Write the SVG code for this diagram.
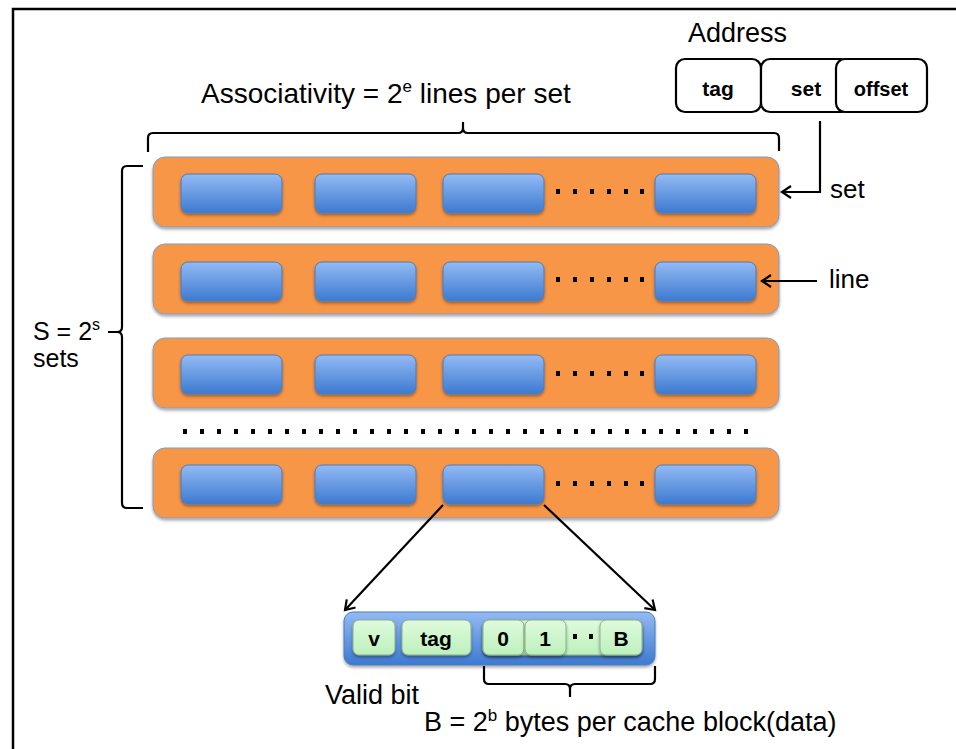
<svg xmlns="http://www.w3.org/2000/svg" width="956" height="749" viewBox="0 0 956 749">
<defs>
  <linearGradient id="gBlue" x1="0" y1="0" x2="0" y2="1">
    <stop offset="0" stop-color="#93BAF4"/>
    <stop offset="1" stop-color="#3D7AD0"/>
  </linearGradient>
  <linearGradient id="gGreen" x1="0" y1="0" x2="0" y2="1">
    <stop offset="0" stop-color="#DFFBDC"/>
    <stop offset="1" stop-color="#BDF0BC"/>
  </linearGradient>
  <filter id="sh" x="-10%" y="-20%" width="120%" height="150%">
    <feDropShadow dx="0" dy="2" stdDeviation="1.5" flood-color="#000" flood-opacity="0.35"/>
  </filter>
  <marker id="arr" markerWidth="14" markerHeight="14" refX="11" refY="7" orient="auto" markerUnits="userSpaceOnUse">
    <path d="M2,1 L11,7 L2,13" fill="none" stroke="#000" stroke-width="2.2"/>
  </marker>
  <style>
    .row { fill: #F79646; stroke: #7D9FCB; stroke-width: 1; filter: url(#sh); }
    .blk { fill: url(#gBlue); stroke: #4A7DBD; stroke-width: 1; filter: url(#sh); }
    .grn { fill: url(#gGreen); stroke: #8BAF8A; stroke-width: 1; filter: url(#sh); }
    .addr { fill: #fff; stroke: #000; stroke-width: 2.2; }
    .t { font-family: "Liberation Sans", Arial, sans-serif; fill: #000; }
    .b { font-family: "Liberation Sans", Arial, sans-serif; font-weight: bold; fill: #000; }
    .ln { fill: none; stroke: #000; stroke-width: 2.2; }
    .dot { fill: #000; }
  </style>
</defs>
<rect width="956" height="749" fill="#fff"/>
<!-- frame -->
<path d="M13,760 L13,9 L960,9" fill="none" stroke="#000" stroke-width="2.5"/>

<!-- Address -->
<g id="address">
  <text class="t" x="688" y="42" font-size="27">Address</text>
  <rect class="addr" x="676" y="59" width="85" height="53" rx="9"/>
  <text class="b" x="718" y="96" font-size="21" text-anchor="middle">tag</text>
  <rect class="addr" x="761" y="59" width="90" height="53" rx="9"/>
  <text class="b" x="806" y="96" font-size="21" text-anchor="middle">set</text>
  <rect class="addr" x="836" y="59" width="91" height="53" rx="9"/>
  <text class="b" x="881" y="96" font-size="20" text-anchor="middle">offset</text>
</g>

<!-- braces and labels -->
<g id="assoc">
  <path class="ln" d="M148,152 L148,138 Q148,133 153,133 L458,133 Q463,133 463,128 L463,122 L463,128 Q463,133 468,133 L774,133 Q779,133 779,138 L779,151"/>
  <text class="t" x="201" y="103" font-size="28">Associativity = 2<tspan font-size="17" dy="-11">e</tspan><tspan dy="11"> lines per set</tspan></text>
</g>
<g id="sets">
  <path class="ln" d="M143,166 L127,166 Q122,166 122,171 L122,327 Q122,332 117,332 L108,332 L117,332 Q122,332 122,337 L122,503 Q122,508 127,508 L143,508"/>
  <text class="t" x="33" y="340" font-size="25">S = 2<tspan font-size="16" dy="-10">s</tspan></text>
  <text class="t" x="33" y="367" font-size="25">sets</text>
</g>

<!-- rows -->
<g id="row1">
  <rect class="row" x="153" y="157" width="626" height="70" rx="12"/>
  <rect class="blk" x="181" y="174" width="101" height="39" rx="7"/>
  <rect class="blk" x="315" y="174" width="101" height="39" rx="7"/>
  <rect class="blk" x="443" y="174" width="101" height="39" rx="7"/>
  <rect class="blk" x="655" y="174" width="101" height="39" rx="7"/>
  <g class="dot"><rect x="556" y="189" width="4" height="5"/><rect x="573" y="189" width="4" height="5"/><rect x="590" y="189" width="4" height="5"/><rect x="607" y="189" width="4" height="5"/><rect x="624" y="189" width="4" height="5"/><rect x="640" y="189" width="4" height="5"/></g>
</g>
<g id="row2">
  <rect class="row" x="153" y="244" width="626" height="70" rx="12"/>
  <rect class="blk" x="181" y="262" width="101" height="39" rx="7"/>
  <rect class="blk" x="315" y="262" width="101" height="39" rx="7"/>
  <rect class="blk" x="443" y="262" width="101" height="39" rx="7"/>
  <rect class="blk" x="655" y="262" width="101" height="39" rx="7"/>
  <g class="dot"><rect x="556" y="277" width="4" height="5"/><rect x="573" y="277" width="4" height="5"/><rect x="590" y="277" width="4" height="5"/><rect x="607" y="277" width="4" height="5"/><rect x="624" y="277" width="4" height="5"/><rect x="640" y="277" width="4" height="5"/></g>
</g>
<g id="row3">
  <rect class="row" x="153" y="338" width="626" height="70" rx="12"/>
  <rect class="blk" x="181" y="355" width="101" height="39" rx="7"/>
  <rect class="blk" x="315" y="355" width="101" height="39" rx="7"/>
  <rect class="blk" x="443" y="355" width="101" height="39" rx="7"/>
  <rect class="blk" x="655" y="355" width="101" height="39" rx="7"/>
  <g class="dot"><rect x="556" y="371" width="4" height="5"/><rect x="573" y="371" width="4" height="5"/><rect x="590" y="371" width="4" height="5"/><rect x="607" y="371" width="4" height="5"/><rect x="624" y="371" width="4" height="5"/><rect x="640" y="371" width="4" height="5"/></g>
</g>
<g id="row4">
  <rect class="row" x="153" y="448" width="626" height="70" rx="12"/>
  <rect class="blk" x="181" y="465" width="101" height="39" rx="7"/>
  <rect class="blk" x="315" y="465" width="101" height="39" rx="7"/>
  <rect class="blk" x="443" y="465" width="101" height="39" rx="7"/>
  <rect class="blk" x="655" y="465" width="101" height="39" rx="7"/>
  <g class="dot"><rect x="556" y="481" width="4" height="5"/><rect x="573" y="481" width="4" height="5"/><rect x="590" y="481" width="4" height="5"/><rect x="607" y="481" width="4" height="5"/><rect x="624" y="481" width="4" height="5"/><rect x="640" y="481" width="4" height="5"/></g>
</g>

<!-- middle dotted row -->
<g id="vdots" class="dot">
  <rect x="183" y="429" width="4" height="5"/><rect x="200" y="429" width="4" height="5"/><rect x="217" y="429" width="4" height="5"/><rect x="234" y="429" width="4" height="5"/><rect x="251" y="429" width="4" height="5"/><rect x="268" y="429" width="4" height="5"/><rect x="285" y="429" width="4" height="5"/><rect x="302" y="429" width="4" height="5"/><rect x="319" y="429" width="4" height="5"/><rect x="336" y="429" width="4" height="5"/><rect x="353" y="429" width="4" height="5"/><rect x="370" y="429" width="4" height="5"/><rect x="387" y="429" width="4" height="5"/><rect x="404" y="429" width="4" height="5"/><rect x="421" y="429" width="4" height="5"/><rect x="438" y="429" width="4" height="5"/><rect x="455" y="429" width="4" height="5"/><rect x="472" y="429" width="4" height="5"/><rect x="489" y="429" width="4" height="5"/><rect x="506" y="429" width="4" height="5"/><rect x="523" y="429" width="4" height="5"/><rect x="540" y="429" width="4" height="5"/><rect x="557" y="429" width="4" height="5"/><rect x="574" y="429" width="4" height="5"/><rect x="591" y="429" width="4" height="5"/><rect x="608" y="429" width="4" height="5"/><rect x="625" y="429" width="4" height="5"/><rect x="642" y="429" width="4" height="5"/><rect x="659" y="429" width="4" height="5"/><rect x="676" y="429" width="4" height="5"/><rect x="693" y="429" width="4" height="5"/><rect x="710" y="429" width="4" height="5"/><rect x="727" y="429" width="4" height="5"/><rect x="744" y="429" width="4" height="5"/>
</g>

<!-- expanded line -->
<g id="cacheline">
  <rect x="344" y="612" width="311" height="53" rx="9" fill="url(#gBlue)" stroke="#4A7DBD" stroke-width="1" filter="url(#sh)"/>
  <rect class="grn" x="353" y="620" width="42" height="35" rx="6"/>
  <text class="b" x="374" y="646" font-size="21" text-anchor="middle">v</text>
  <rect class="grn" x="402" y="620" width="69" height="35" rx="6"/>
  <text class="b" x="436" y="646" font-size="21" text-anchor="middle">tag</text>
  <rect class="grn" x="483" y="620" width="159" height="35" rx="6"/>
  <rect class="grn" x="483" y="620" width="41" height="35" rx="6"/>
  <text class="b" x="503" y="646" font-size="21" text-anchor="middle">0</text>
  <rect class="grn" x="525" y="620" width="41" height="35" rx="6"/>
  <text class="b" x="545" y="646" font-size="21" text-anchor="middle">1</text>
  <rect class="dot" x="573" y="634" width="4" height="5"/>
  <rect class="dot" x="589" y="634" width="4" height="5"/>
  <rect class="grn" x="600" y="620" width="42" height="35" rx="6"/>
  <text class="b" x="621" y="646" font-size="21" text-anchor="middle">B</text>
</g>
<g id="bottomlabels">
  <path class="ln" d="M484,666 L484,679 Q484,684 489,684 L565,684 Q570,684 570,689 L570,697 L570,689 Q570,684 575,684 L650,684 Q655,684 655,679 L655,666"/>
  <text class="t" x="325" y="704" font-size="27">Valid bit</text>
  <text class="t" x="424" y="731" font-size="27">B = 2<tspan font-size="17" dy="-10">b</tspan><tspan dy="10"> bytes per cache block(data)</tspan></text>
</g>

<!-- side labels -->
<g id="labels">
  <text class="t" x="830" y="198" font-size="26">set</text>
  <text class="t" x="829" y="288" font-size="26">line</text>
</g>

<!-- connectors -->
<g id="connectors">
  <path class="ln" d="M820,121 L820,192 L782,192" marker-end="url(#arr)"/>
  <path class="ln" d="M817,281 L762,281" marker-end="url(#arr)"/>
  <path class="ln" d="M443,505 L345,610" marker-end="url(#arr)"/>
  <path class="ln" d="M544,505 L655,610" marker-end="url(#arr)"/>
</g>
</svg>
